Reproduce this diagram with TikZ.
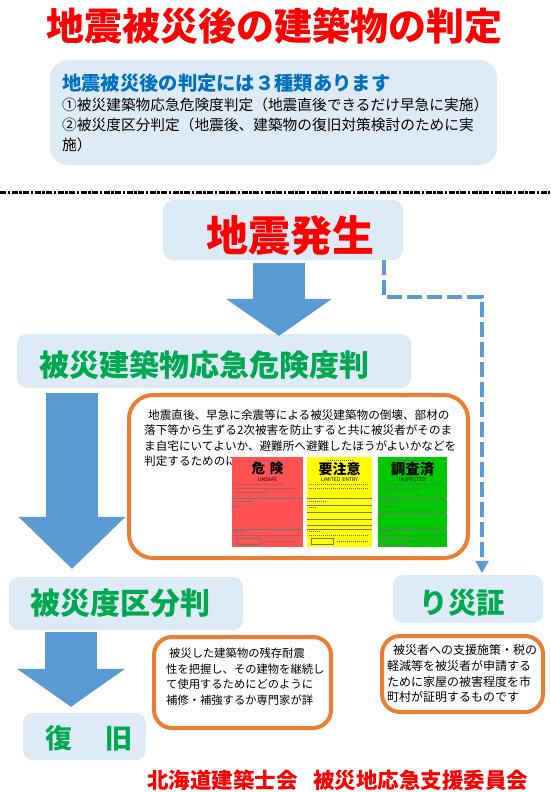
\documentclass[tikz,border=0pt]{standalone}
\usepackage{fontspec}
\setmainfont{Noto Sans CJK JP}
\usepackage{xcolor}
\usetikzlibrary{arrows.meta, positioning, calc}
\definecolor{titlered}{RGB}{255,0,0}
\definecolor{headblue}{RGB}{0,112,192}
\definecolor{boxblue}{RGB}{222,234,246}
\definecolor{arrowblue}{RGB}{91,155,213}
\definecolor{stepgreen}{RGB}{0,168,80}
\definecolor{frameorange}{RGB}{237,125,49}
\definecolor{cardred}{RGB}{255,82,82}
\definecolor{cardyellow}{RGB}{255,255,0}
\definecolor{cardgreen}{RGB}{0,200,0}
\newcommand{\jfs}[1]{\fontsize{#1}{#1}\selectfont}

\begin{document}
\begin{tikzpicture}[x=1pt, y=-1pt,
    bluebox/.style={fill=boxblue, rounded corners=10pt, inner sep=0pt},
    notebox/.style={draw=frameorange, line width=4pt, fill=white, inner sep=0pt},
    txt/.style={inner sep=0pt, anchor=west},
    steptxt/.style={inner sep=0pt, text=stepgreen, font=\jfs{#1}\bfseries},
    bigarrow/.style 2 args={draw=arrowblue, line width=52pt, -{Triangle[width=#1, length=#2, line width=0pt]}},
    dashlink/.style={draw=arrowblue, line width=4.5pt, dash pattern=on 15pt off 5pt, -{Triangle[width=14pt, length=12pt, line width=0pt]}},
    cardline/.style={draw=black!55, line width=0.4pt},
    tinytext/.style={draw=black!60, line width=1.2pt, dash pattern=on 1.3pt off 0.7pt}
]
    \useasboundingbox (0,0) rectangle (550,792);

    % Title
    \node[inner sep=0pt, font=\jfs{38}\bfseries, text=titlered] (title) at (274,26) {地震被災後の建築物の判定};

    % Summary box
    \node[bluebox, rounded corners=18pt, minimum width=447pt, minimum height=105pt] (info) at (273.5,112.5) {};
    \node[txt, font=\jfs{19.3}\bfseries, text=headblue] (infohead) at (62,83) {地震被災後の判定には３種類あります};
    \node[txt, font=\jfs{14.7}] (infoa) at (62,105) {①被災建築物応急危険度判定（地震直後できるだけ早急に実施）};
    \node[txt, font=\jfs{14.7}] (infob) at (62,125) {②被災度区分判定（地震後、建築物の復旧対策検討のために実};
    \node[txt, font=\jfs{14.7}] (infoc) at (62,145) {施）};

    % Separator
    \draw[line width=3pt, dash pattern=on 6pt off 1.5pt on 2.5pt off 1.5pt] (0,192) -- (550,192);

    % Flow boxes
    \node[bluebox, minimum width=240pt, minimum height=60pt] (quake) at (283,230) {};
    \node[inner sep=0pt, font=\jfs{42}\bfseries, text=titlered] (quaketxt) at (290,236) {地震発生};

    \node[bluebox, minimum width=394pt, minimum height=54pt] (danger) at (214,361) {};
    \node[steptxt=30, anchor=west] (dangertxt) at (39,365) {被災建築物応急危険度判};

    \node[bluebox, minimum width=234pt, minimum height=53pt] (grade) at (126,603.5) {};
    \node[steptxt=30, anchor=west] (gradetxt) at (30,603) {被災度区分判};

    \node[bluebox, minimum width=150pt, minimum height=48pt] (risai) at (468,599) {};
    \node[steptxt=28.5] (risaitxt) at (462.5,603) {り災証};

    \node[bluebox, minimum width=123pt, minimum height=47pt] (fukkyu) at (84.5,736.5) {};
    \node[steptxt=27] (fukkyutxt) at (89,738) {復\hspace{34pt}旧};

    % Block arrows
    \coordinate (ax1) at (279,0);
    \coordinate (ax2) at (72,0);
    \coordinate (ax3) at (71,0);
    \draw[bigarrow={106pt}{37pt}] ($(quake.south -| ax1)+(0,3)$) -- ($(danger.north -| ax1)+(0,2)$);
    \draw[bigarrow={107pt}{52pt}] ($(danger.south -| ax2)+(0,5)$) -- ($(grade.north -| ax2)+(0,-8)$);
    \draw[bigarrow={108pt}{38pt}] ($(grade.south -| ax3)+(0,2)$) -- ($(fukkyu.north -| ax3)+(0,-6)$);

    % Dashed route to risai
    \coordinate (dx) at (384,0);
    \coordinate (dbend) at (482,297);
    \draw[dashlink, shorten >=2pt] (quake.south -| dx) |- (dbend) -- (risai.north -| dbend);

    % Note boxes
    \node[notebox, rounded corners=24pt, minimum width=339pt, minimum height=163pt] (notea) at (298.5,476.5) {};
    \node[txt, font=\jfs{11.6}] (notea1) at (148,415) {地震直後、早急に余震等による被災建築物の倒壊、部材の};
    \node[txt, font=\jfs{11.6}] (notea2) at (144,430.5) {落下等から生ずる2次被害を防止すると共に被災者がそのま};
    \node[txt, font=\jfs{11.6}] (notea3) at (144,446) {ま自宅にいてよいか、避難所へ避難したほうがよいかなどを};
    \node[txt, font=\jfs{11.6}] (notea4) at (144,461.5) {判定するためのに};

    \node[notebox, rounded corners=18pt, minimum width=177pt, minimum height=91pt] (noteb) at (242.5,682.5) {};
    \node[txt, font=\jfs{11.3}] (noteb1) at (169,653) {被災した建築物の残存耐震};
    \node[txt, font=\jfs{11.3}] (noteb2) at (166,669) {性を把握し、その建物を継続し};
    \node[txt, font=\jfs{11.3}] (noteb3) at (166,684.5) {て使用するためにどのように};
    \node[txt, font=\jfs{11.3}] (noteb4) at (166,700) {補修・補強するか専門家が詳};

    \node[notebox, rounded corners=18pt, minimum width=161pt, minimum height=76pt] (notec) at (462.5,674) {};
    \node[txt, font=\jfs{12}] (notec1) at (393,650) {被災者への支援施策・税の};
    \node[txt, font=\jfs{12}] (notec2) at (387,666) {軽減等を被災者が申請する};
    \node[txt, font=\jfs{12}] (notec3) at (387,682) {ために家屋の被害程度を市};
    \node[txt, font=\jfs{12}] (notec4) at (387,697) {町村が証明するものです};

    % Red card
    \node[fill=cardred, minimum width=71pt, minimum height=90pt, inner sep=0pt] (unsafe) at (267.5,502) {};
    \draw[tinytext] ($(unsafe.north)+(-14,3.5)$) -- ($(unsafe.north)+(14,3.5)$);
    \node[inner sep=0pt, font=\jfs{13.5}\bfseries] (unsafe1) at ($(unsafe.north)+(0,12)$) {危\hspace{5pt}険};
    \node[inner sep=0pt, font=\jfs{5}] (unsafe2) at ($(unsafe.north)+(0,22.5)$) {UNSAFE};
    \draw[tinytext] ($(unsafe.north west)+(2,28)$) -- ++(50,0);
    \draw[tinytext] ($(unsafe.north west)+(2,32)$) -- ++(64,0);
    \draw[tinytext] ($(unsafe.north west)+(5,36)$) -- ++(30,0);
    \draw[cardline] ($(unsafe.north west)+(0,41)$) -- ($(unsafe.north east)+(0,41)$);
    \draw[tinytext] ($(unsafe.north west)+(2,45)$) -- ++(18,0);
    \draw[tinytext] ($(unsafe.north west)+(2,50)$) -- ++(8,0);
    \draw[cardline] ($(unsafe.north west)+(0,72)$) -- ($(unsafe.north east)+(0,72)$);
    \draw[tinytext] ($(unsafe.north west)+(2,75)$) -- ++(12,0);
    \draw[tinytext] ($(unsafe.north west)+(2,79)$) -- ++(67,0);
    \draw[cardline] ($(unsafe.south west)+(4,-3)$) rectangle ++(24,-6);
    \draw[tinytext] ($(unsafe.south west)+(32,-6)$) -- ++(34,0);

    % Yellow card
    \node[fill=cardyellow, minimum width=65pt, minimum height=90pt, inner sep=0pt] (limited) at (339.5,502) {};
    \draw[tinytext] ($(limited.north)+(-14,3.5)$) -- ($(limited.north)+(14,3.5)$);
    \node[inner sep=0pt, font=\jfs{14}\bfseries] (limited1) at ($(limited.north)+(0,12)$) {要注意};
    \node[inner sep=0pt, font=\jfs{5}] (limited2) at ($(limited.north)+(0,22.5)$) {LIMITED\ \ ENTRY};
    \draw[tinytext] ($(limited.north west)+(2,28)$) -- ++(60,0);
    \draw[tinytext] ($(limited.north west)+(2,32)$) -- ++(60,0);
    \draw[cardline] ($(limited.north west)+(0,41)$) -- ($(limited.north east)+(0,41)$);
    \draw[tinytext] ($(limited.north west)+(2,45)$) -- ++(18,0);
    \draw[cardline] ($(limited.north west)+(0,48)$) -- ($(limited.north east)+(0,48)$);
    \draw[tinytext] ($(limited.north west)+(2,51)$) -- ++(8,0);
    \draw[cardline] ($(limited.north west)+(0,55)$) -- ($(limited.north east)+(0,55)$);
    \draw[cardline] ($(limited.north west)+(0,62)$) -- ($(limited.north east)+(0,62)$);
    \draw[cardline] ($(limited.north west)+(0,68)$) -- ($(limited.north east)+(0,68)$);
    \draw[cardline] ($(limited.north west)+(0,72)$) -- ($(limited.north east)+(0,72)$);
    \draw[tinytext] ($(limited.north west)+(2,75)$) -- ++(12,0);
    \draw[tinytext] ($(limited.north west)+(2,79)$) -- ++(60,0);
    \draw[cardline] ($(limited.south west)+(4,-3)$) rectangle ++(22,-6);
    \draw[tinytext] ($(limited.south west)+(30,-6)$) -- ++(32,0);

    % Green card
    \node[fill=cardgreen, minimum width=69pt, minimum height=90pt, inner sep=0pt] (inspected) at (412.5,502) {};
    \draw[tinytext] ($(inspected.north)+(-14,3.5)$) -- ($(inspected.north)+(14,3.5)$);
    \node[inner sep=0pt, font=\jfs{14.5}\bfseries] (inspected1) at ($(inspected.north)+(0,12)$) {調査済};
    \node[inner sep=0pt, font=\jfs{5}] (inspected2) at ($(inspected.north)+(0,22.5)$) {INSPECTED};
    \draw[tinytext] ($(inspected.north west)+(2,28)$) -- ++(62,0);
    \draw[tinytext] ($(inspected.north west)+(2,32)$) -- ++(40,0);
    \draw[cardline] ($(inspected.north west)+(0,41)$) -- ($(inspected.north east)+(0,41)$);
    \draw[tinytext] ($(inspected.north west)+(2,45)$) -- ++(18,0);
    \draw[tinytext] ($(inspected.north west)+(2,50)$) -- ++(8,0);
    \draw[cardline] ($(inspected.north west)+(0,55)$) -- ($(inspected.north east)+(0,55)$);
    \draw[cardline] ($(inspected.north west)+(0,72)$) -- ($(inspected.north east)+(0,72)$);
    \draw[tinytext] ($(inspected.north west)+(2,75)$) -- ++(12,0);
    \draw[tinytext] ($(inspected.north west)+(2,79)$) -- ++(64,0);
    \draw[cardline] ($(inspected.south west)+(4,-3)$) rectangle ++(24,-6);
    \draw[tinytext] ($(inspected.south west)+(32,-6)$) -- ++(32,0);

    % Footer
    \node[txt, font=\jfs{21.5}\bfseries, text=titlered] (footer) at (147,780) {北海道建築士会\hspace{15.5pt}被災地応急支援委員会};
\end{tikzpicture}
\end{document}
